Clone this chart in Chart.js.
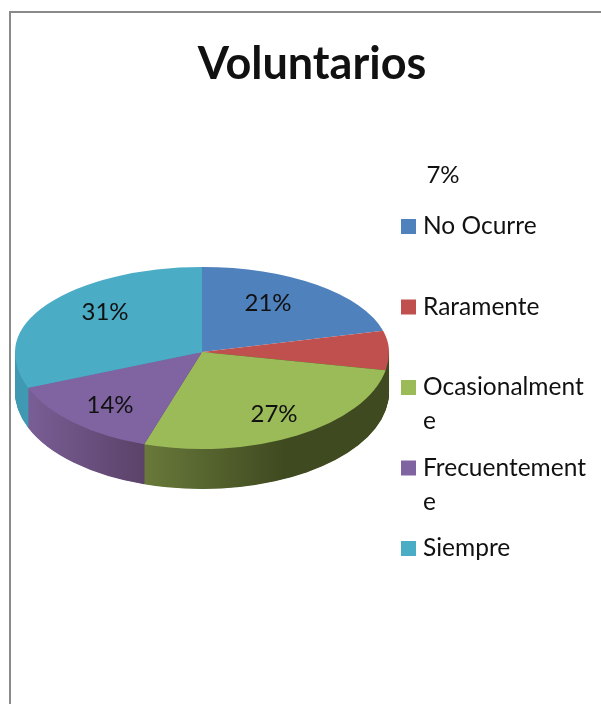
<!DOCTYPE html>
<html>
<head>
    <title>Voluntarios</title>
    <script src="https://cdn.jsdelivr.net/npm/chart.js"></script>
    <style>
        html, body { margin: 0; padding: 0; background: #fff; overflow: hidden; width: 601px; height: 704px; }
        .frame { position: absolute; left: 9px; top: 11px; border-top: 2px solid #8a8a8a; border-left: 2px solid #8a8a8a; }
        canvas { display: block; }
    </style>
</head>
<body>
    <div class="frame"><canvas id="myChart" width="602" height="691"></canvas></div>
    <script>
        var chartTitle = 'Voluntarios';
        var categories = ['No Ocurre', 'Raramente', 'Ocasionalmente', 'Frecuentemente', 'Siempre'];
        var percentages = [21, 7, 27, 14, 31];
        var legendLines = [['No Ocurre'], ['Raramente'], ['Ocasionalment', 'e'], ['Frecuentement', 'e'], ['Siempre']];
        var topColors = ['#4f81bd', '#c0504d', '#9bbb59', '#8064a2', '#4bacc6'];
        // side wall shading, left colour then right colour
        // the red slice has no visible wall in the original, so it takes the green shadow
        var sideColors = [
            ['#3b6191', '#3b6191'],
            ['#3f4a20', '#3f4a20'],
            ['#68793a', '#3f4a20'],
            ['#7b5f98', '#5a4268'],
            ['#3f99b2', '#3f99b2']
        ];
        var font = 'Lato, sans-serif';
        var ink = '#111';

        // page position of the percent labels, the 7% one sits away from the pie in the original
        var labelAnchors = [[268, 303], [443, 175], [274, 414], [110, 405], [105, 312]];
        var frameX = 11, frameY = 13;

        var pieCenterX = 202 - frameX, pieCenterY = 352 - frameY, pieRadius = 187;
        var topSquash = 85 / 187, bottomSquash = 97 / 187, depth = 40;

        function squash(ctx, cy, k, shift) {
            ctx.translate(0, cy + shift);
            ctx.scale(1, k);
            ctx.translate(0, -cy);
        }

        var pie3d = {
            id: 'pie3d',
            // the pie sits left of the title, so move the area the arcs are centred in
            afterLayout: function (chart) {
                var a = chart.chartArea;
                a.left = pieCenterX - pieRadius;
                a.right = pieCenterX + pieRadius;
                a.top = pieCenterY - pieRadius;
                a.bottom = pieCenterY + pieRadius;
                a.width = a.right - a.left;
                a.height = a.bottom - a.top;
            },
            beforeDatasetsDraw: function (chart) {
                var ctx = chart.ctx;
                var meta = chart.getDatasetMeta(0);
                var first = meta.data[0];
                var cx = first.x, cy = first.y, R = first.outerRadius;

                // side wall, stacked from the bottom layer up
                for (var d = depth; d > 0; d -= 0.5) {
                    ctx.save();
                    ctx.beginPath();
                    ctx.rect(0, cy + d, chart.width, chart.height);
                    ctx.clip();
                    squash(ctx, cy, bottomSquash, d);
                    meta.data.forEach(function (arc, i) {
                        var grad = ctx.createLinearGradient(arc.x - R, 0, arc.x + R, 0);
                        if (i === 2) {
                            grad.addColorStop(0.35, sideColors[i][0]);
                            grad.addColorStop(0.72, sideColors[i][1]);
                        } else if (i === 3) {
                            grad.addColorStop(0.02, sideColors[i][0]);
                            grad.addColorStop(0.35, sideColors[i][1]);
                        } else {
                            grad.addColorStop(0, sideColors[i][0]);
                            grad.addColorStop(1, sideColors[i][1]);
                        }
                        ctx.fillStyle = grad;
                        ctx.beginPath();
                        ctx.moveTo(cx, cy);
                        ctx.arc(cx, cy, R, arc.startAngle, arc.endAngle);
                        ctx.closePath();
                        ctx.fill();
                    });
                    ctx.restore();
                }

                // top face, the near half is a bit taller than the far half
                ctx.save();
                ctx.beginPath();
                ctx.rect(0, 0, chart.width, cy + 0.5);
                ctx.clip();
                squash(ctx, cy, topSquash, 0);
                meta.controller.draw();
                ctx.restore();

                ctx.save();
                ctx.beginPath();
                ctx.rect(0, cy, chart.width, chart.height);
                ctx.clip();
                squash(ctx, cy, bottomSquash, 0);
                meta.controller.draw();
                ctx.restore();
                return false;
            },
            afterDraw: function (chart) {
                var ctx = chart.ctx;
                ctx.save();
                ctx.fillStyle = ink;
                ctx.font = '24px ' + font;

                // percent labels
                ctx.textAlign = 'center';
                ctx.textBaseline = 'middle';
                percentages.forEach(function (v, i) {
                    ctx.fillText(v + '%', labelAnchors[i][0] - frameX, labelAnchors[i][1] - frameY);
                });

                // legend, rows keep a fixed step even when the label wraps
                ctx.font = '24.5px ' + font;
                ctx.textAlign = 'left';
                ctx.textBaseline = 'alphabetic';
                legendLines.forEach(function (lines, i) {
                    var base = 234 + i * 80.5 - frameY;
                    ctx.fillStyle = topColors[i];
                    ctx.fillRect(401 - frameX, base - 15, 15, 15);
                    ctx.fillStyle = ink;
                    lines.forEach(function (line, j) {
                        ctx.fillText(line, 423 - frameX, base + j * 34);
                    });
                });
                ctx.restore();
            }
        };

        var ctx = document.getElementById('myChart').getContext('2d');
        var myChart = new Chart(ctx, {
            type: 'pie',
            data: {
                labels: categories,
                datasets: [{
                    data: percentages,
                    backgroundColor: topColors,
                    borderWidth: 0,
                    radius: pieRadius
                }]
            },
            options: {
                responsive: false,
                animation: false,
                plugins: {
                    legend: { display: false },
                    tooltip: { enabled: false },
                    title: {
                        display: true,
                        text: chartTitle,
                        color: ink,
                        font: { family: font, size: 45, weight: 'bold' },
                        padding: { top: 24, bottom: 20 }
                    }
                }
            },
            plugins: [pie3d]
        });
    </script>
</body>
</html>
